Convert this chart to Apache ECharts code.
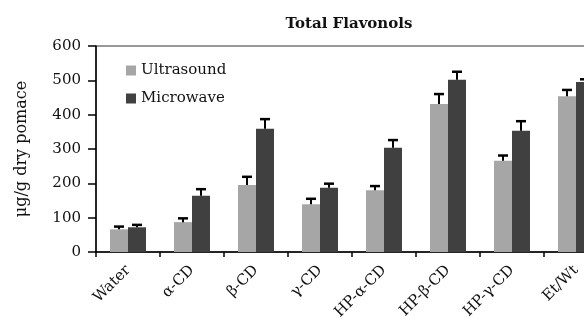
<!DOCTYPE html>
<html><head><meta charset="utf-8">
<script src="https://cdn.jsdelivr.net/npm/echarts@6/dist/echarts.min.js"></script>
<style>html,body{margin:0;padding:0;background:#fff}#c{width:584px;height:330px}</style>
</head><body><div id="c"></div>
<script>
const categories = ['Water', 'α-CD', 'β-CD', 'γ-CD', 'HP-α-CD', 'HP-β-CD', 'HP-γ-CD', 'Et/Wt'];
const ultrasound = [66, 87, 195, 139, 180, 431, 266, 454];
const ultrasoundErr = [8, 11, 24, 16, 12, 29, 15, 18];
const microwave = [72, 164, 359, 187, 304, 502, 353, 495];
const microwaveErr = [7, 19, 28, 12, 22, 23, 28, 8];
const yTicks = [0, 100, 200, 300, 400, 500, 600];

const BAR_W = 18;
const font = 'DejaVu Serif';
function errSeries(vals, errs, shift) {
  return {
    type: 'custom', z: 5, silent: true,
    data: vals.map((v, i) => [i, v, v + errs[i]]),
    renderItem: function (params, api) {
      const base = api.coord([api.value(0), api.value(1)]);
      const top = api.coord([api.value(0), api.value(2)]);
      const x = base[0] + shift;
      return {
        type: 'group', children: [
          { type: 'line', shape: { x1: x, y1: base[1], x2: x, y2: top[1] }, style: { stroke: '#000', lineWidth: 2 } },
          { type: 'line', shape: { x1: x - 5, y1: top[1], x2: x + 5, y2: top[1] }, style: { stroke: '#000', lineWidth: 2.5 } }
        ]
      };
    }
  };
}
const chart = echarts.init(document.getElementById('c'), null, { renderer: 'canvas' });
chart.setOption({
  animation: false,
  title: { text: 'Total Flavonols', left: 344, top: 12, textAlign: 'center',
    textStyle: { fontFamily: font, fontWeight: 'bold', fontSize: 15, color: '#111' } },
  legend: { left: 121, top: 58, orient: 'vertical', itemWidth: 10, itemHeight: 10, itemGap: 13,
    icon: 'rect', textStyle: { fontFamily: font, fontSize: 15, color: '#111' },
    data: ['Ultrasound', 'Microwave'] },
  grid: { left: 96, top: 46, width: 512, height: 206, outerBoundsMode: 'none', containLabel: false,
    show: true, borderColor: '#333', borderWidth: 1, backgroundColor: 'transparent' },
  xAxis: { type: 'category', data: categories,
    axisLine: { lineStyle: { color: '#000', width: 1.5 } },
    axisTick: { show: true, length: 5, lineStyle: { color: '#000', width: 1.5 } },
    axisLabel: { rotate: 45, margin: 16, fontFamily: font, fontSize: 15, color: '#111' } },
  yAxis: { type: 'value', min: 0, max: 600, interval: 100,
    name: 'μg/g dry pomace', nameLocation: 'middle', nameGap: 66,
    nameTextStyle: { fontFamily: font, fontSize: 16, color: '#111' },
    splitLine: { show: false },
    axisLine: { show: true, lineStyle: { color: '#000', width: 1.5 } },
    axisTick: { show: true, length: 8, lineStyle: { color: '#000', width: 1.5 } },
    axisLabel: { fontFamily: font, fontSize: 15, color: '#111', margin: 15,
      formatter: v => yTicks.includes(v) ? String(v) : '' } },
  series: [
    { name: 'Ultrasound', type: 'bar', data: ultrasound, barWidth: BAR_W, barGap: '0%',
      itemStyle: { color: '#a6a6a6' } },
    { name: 'Microwave', type: 'bar', data: microwave, barWidth: BAR_W, barGap: '0%',
      itemStyle: { color: '#404040' } },
    errSeries(ultrasound, ultrasoundErr, -BAR_W / 2),
    errSeries(microwave, microwaveErr, BAR_W / 2)
  ]
});
</script></body></html>
